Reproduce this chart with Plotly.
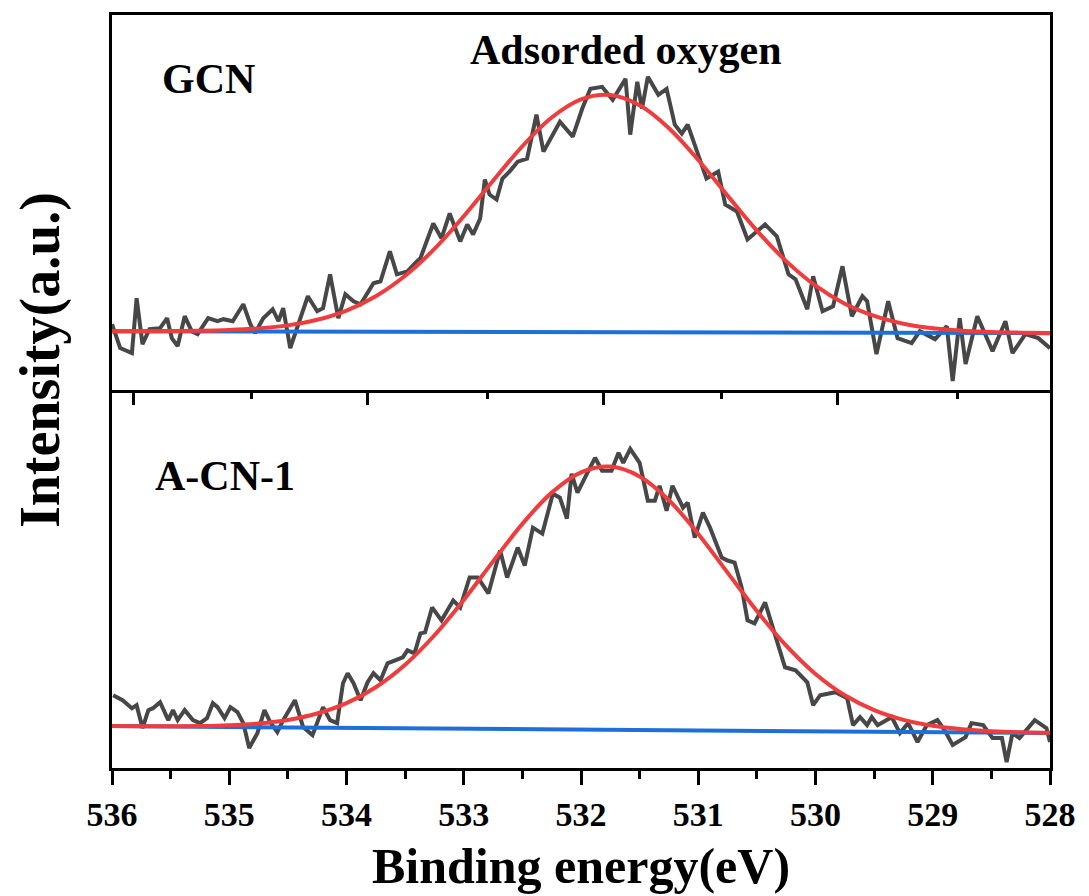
import plotly.graph_objects as go

# ---------------- data (binding energy in eV, intensity in a.u.) ----------------
gcn_x = [536.00, 535.93, 535.83, 535.79, 535.74, 535.68, 535.59, 535.53, 535.49, 535.44,
         535.38, 535.32, 535.27, 535.18, 535.10, 535.05, 534.97, 534.88, 534.82, 534.78,
         534.71, 534.63, 534.58, 534.54, 534.48, 534.42, 534.33, 534.25, 534.20, 534.14,
         534.07, 534.01, 533.94, 533.88, 533.77, 533.71, 533.63, 533.57, 533.48, 533.40,
         533.37, 533.26, 533.19, 533.12, 533.03, 532.97, 532.92, 532.86, 532.82, 532.78,
         532.72, 532.67, 532.61, 532.54, 532.46, 532.38, 532.32, 532.18, 532.07, 531.99,
         531.92, 531.82, 531.73, 531.62, 531.58, 531.52, 531.48, 531.43, 531.34, 531.27,
         531.20, 531.14, 531.09, 530.93, 530.83, 530.77, 530.67, 530.58, 530.43, 530.33,
         530.23, 530.17, 530.07, 530.02, 529.94, 529.85, 529.77, 529.69, 529.60, 529.56,
         529.48, 529.38, 529.30, 529.18, 529.11, 528.98, 528.88, 528.83, 528.77, 528.72,
         528.62, 528.49, 528.38, 528.32, 528.21, 528.10, 528.00]
gcn_y = [7, -17, -22, 33, -13, 2, 3, 13, -7, -15,
         15, 0, -3, 13, 10, 12, 10, 27, 7, -2,
         13, 22, 10, 23, -17, 3, 35, 20, 23, 57,
         13, 37, 30, 27, 48, 50, 80, 57, 60, 70,
         73, 108, 93, 118, 90, 107, 97, 113, 152, 137,
         132, 153, 160, 170, 173, 217, 180, 210, 195, 223,
         243, 245, 232, 253, 197, 250, 223, 255, 237, 243,
         207, 198, 207, 153, 160, 127, 120, 92, 107, 95,
         57, 52, 22, 55, 20, 25, 65, 15, 35, 30,
         -23, 30, -7, -12, 0, -8, 5, -50, 13, -33,
         15, -20, 10, -22, -3, -7, -17]

acn_x = [535.99, 535.91, 535.83, 535.79, 535.74, 535.69, 535.65, 535.59, 535.52, 535.48,
         535.44, 535.38, 535.31, 535.25, 535.19, 535.14, 535.10, 535.04, 534.99, 534.93,
         534.88, 534.83, 534.76, 534.70, 534.65, 534.59, 534.54, 534.44, 534.37, 534.29,
         534.20, 534.14, 534.08, 534.03, 533.99, 533.94, 533.88, 533.82, 533.77, 533.71,
         533.65, 533.59, 533.52, 533.48, 533.42, 533.37, 533.33, 533.27, 533.19, 533.09,
         533.03, 532.95, 532.88, 532.79, 532.69, 532.63, 532.54, 532.48, 532.41, 532.33,
         532.24, 532.18, 532.12, 532.08, 532.03, 531.95, 531.88, 531.82, 531.74, 531.68,
         531.64, 531.58, 531.50, 531.43, 531.37, 531.33, 531.27, 531.22, 531.13, 531.09,
         531.03, 530.96, 530.90, 530.80, 530.75, 530.69, 530.63, 530.58, 530.52, 530.43,
         530.35, 530.26, 530.17, 530.07, 530.02, 529.96, 529.83, 529.73, 529.68, 529.62,
         529.56, 529.52, 529.47, 529.35, 529.28, 529.21, 529.13, 529.05, 528.96, 528.90,
         528.83, 528.72, 528.67, 528.57, 528.49, 528.41, 528.37, 528.32, 528.26, 528.13,
         528.03, 528.00]
acn_y = [34, 29, 21, 24, 1, 19, 21, 27, 9, 19,
         9, 19, 9, 6, 11, 26, 22, 11, 22, 17,
         6, -19, -4, 19, 7, -3, 9, 29, 2, -6,
         22, 9, 6, 46, 56, 46, 29, 47, 56, 49,
         66, 69, 72, 79, 76, 96, 97, 122, 109, 129,
         122, 152, 152, 136, 179, 152, 182, 164, 202, 196,
         236, 232, 211, 256, 237, 256, 272, 259, 259, 277,
         267, 281, 267, 229, 229, 244, 219, 244, 222, 227,
         192, 217, 202, 172, 169, 167, 142, 109, 106, 127,
         96, 62, 59, 47, 24, 34, 37, 31, 4, 12,
         4, 12, 4, 12, -4, 6, -13, 4, 9, -1,
         -16, -8, 6, 4, -9, -9, -33, -4, -9, 9,
         1, -13]

fit_x = [536.00, 535.75, 535.50, 535.25, 535.00, 534.75, 534.50, 534.25, 534.00, 533.75,
         533.50, 533.25, 533.00, 532.75, 532.50, 532.25, 532.00, 531.75, 531.50, 531.25,
         531.00, 530.75, 530.50, 530.25, 530.00, 529.75, 529.50, 529.25, 529.00, 528.75,
         528.50, 528.25, 528.00]
gcn_fit = [0.0, 0.0, 0.1, 0.4, 1.2, 2.8, 5.8, 11.4, 20.7, 35.0,
           55.5, 82.5, 115.2, 150.8, 185.4, 214.2, 232.4, 236.7, 226.4, 203.4,
           171.6, 135.9, 100.8, 70.2, 45.6, 27.5, 15.3, 7.5, 2.9, 0.5,
           -0.9, -1.5, -1.8]
acn_fit = [3.0, 2.9, 2.9, 3.1, 3.9, 5.7, 9.2, 15.6, 26.0, 42.0,
           64.5, 94.1, 129.5, 168.2, 205.8, 237.1, 257.5, 263.2, 253.3, 229.5,
           195.7, 156.9, 118.4, 83.7, 55.3, 33.9, 19.0, 9.3, 3.3, -0.1,
           -2.1, -3.2, -3.7]

base_x = [536.0, 528.0]
gcn_base = [0.0, -2.0]
acn_base = [3.0, -4.0]

x_ticks = [536, 535, 534, 533, 532, 531, 530, 529, 528]
x_minor = [535.5, 534.5, 533.5, 532.5, 531.5, 530.5, 529.5, 528.5]
sep_major = [535.82, 533.82, 531.81, 529.81]
sep_minor = [534.81, 532.80, 530.80, 528.79]

GRAY = "#474747"
RED = "#ef3c3c"
BLUE = "#1e6fd9"
SERIF = "Liberation Serif"

fig = go.Figure()
# top panel (GCN)
fig.add_trace(go.Scatter(x=gcn_x, y=gcn_y, mode="lines", line=dict(color=GRAY, width=4),
                         xaxis="x2", yaxis="y2", showlegend=False))
fig.add_trace(go.Scatter(x=base_x, y=gcn_base, mode="lines", line=dict(color=BLUE, width=4),
                         xaxis="x2", yaxis="y2", showlegend=False))
fig.add_trace(go.Scatter(x=fit_x, y=gcn_fit, mode="lines", line=dict(color=RED, width=4, shape="spline"),
                         xaxis="x2", yaxis="y2", showlegend=False))
# bottom panel (A-CN-1)
fig.add_trace(go.Scatter(x=acn_x, y=acn_y, mode="lines", line=dict(color=GRAY, width=4),
                         xaxis="x", yaxis="y", showlegend=False))
fig.add_trace(go.Scatter(x=base_x, y=acn_base, mode="lines", line=dict(color=BLUE, width=4),
                         xaxis="x", yaxis="y", showlegend=False))
fig.add_trace(go.Scatter(x=fit_x, y=acn_fit, mode="lines", line=dict(color=RED, width=4, shape="spline"),
                         xaxis="x", yaxis="y", showlegend=False))

split = 376 / 755
gap = 3 / 755

fig.update_layout(
    width=1089, height=896,
    margin=dict(l=112, r=39, t=13, b=128),
    paper_bgcolor="white", plot_bgcolor="white",
    font=dict(family=SERIF, color="black"),
    xaxis=dict(domain=[0, 1], anchor="y", range=[536, 528], showgrid=False, zeroline=False,
               showline=True, linewidth=3, linecolor="black", mirror=True,
               tickmode="array", tickvals=x_ticks, ticktext=[str(t) for t in x_ticks],
               ticks="outside", ticklen=14, tickwidth=3, tickcolor="black",
               minor=dict(tickmode="array", tickvals=x_minor, ticks="outside", ticklen=8,
                          tickwidth=3, tickcolor="black", showgrid=False),
               tickfont=dict(family=SERIF, size=34, weight="bold", color="black")),
    yaxis=dict(domain=[0, split], anchor="x", range=[-39, 337], showgrid=False, zeroline=False,
               showline=True, linewidth=3, linecolor="black", mirror=True,
               showticklabels=False, ticks=""),
    xaxis2=dict(domain=[0, 1], anchor="y2", range=[536, 528], showgrid=False, zeroline=False,
                showline=True, linewidth=3, linecolor="black", mirror=True,
                tickmode="array", tickvals=sep_major, showticklabels=False,
                ticks="outside", ticklen=12, tickwidth=3, tickcolor="black",
                minor=dict(tickmode="array", tickvals=sep_minor, ticks="outside", ticklen=6,
                           tickwidth=3, tickcolor="black", showgrid=False)),
    yaxis2=dict(domain=[split + gap, 1], anchor="x2", range=[-59, 317], showgrid=False, zeroline=False,
                showline=True, linewidth=3, linecolor="black", mirror=True,
                showticklabels=False, ticks=""),
)

ann_font = dict(family=SERIF, size=42, weight="bold", color="black")
fig.add_annotation(text="GCN", xref="paper", yref="paper", x=(160 - 112) / 938, y=(768 - 92) / 755,
                   xanchor="left", yanchor="bottom", yshift=-10, showarrow=False, font=ann_font)
fig.add_annotation(text="Adsorded oxygen", xref="paper", yref="paper", x=(626 - 112) / 938,
                   y=(768 - 63) / 755, xanchor="center", yanchor="bottom", yshift=-10,
                   showarrow=False, font=ann_font)
fig.add_annotation(text="A-CN-1", xref="paper", yref="paper", x=(153 - 112) / 938, y=(768 - 490) / 755,
                   xanchor="left", yanchor="bottom", yshift=-10, showarrow=False, font=ann_font)
fig.add_annotation(text="Binding energy(eV)", xref="paper", yref="paper", x=0.5, y=(768 - 866) / 755,
                   xanchor="center", yanchor="middle", showarrow=False,
                   font=dict(family=SERIF, size=50, weight="bold", color="black"))
fig.add_annotation(text="Intensity(a.u.)", xref="paper", yref="paper", x=(40 - 112) / 938,
                   y=(768 - 359) / 755, xanchor="center", yanchor="middle", textangle=-90,
                   showarrow=False, font=dict(family=SERIF, size=56, weight="bold", color="black"))

fig.write_html("out.html")
